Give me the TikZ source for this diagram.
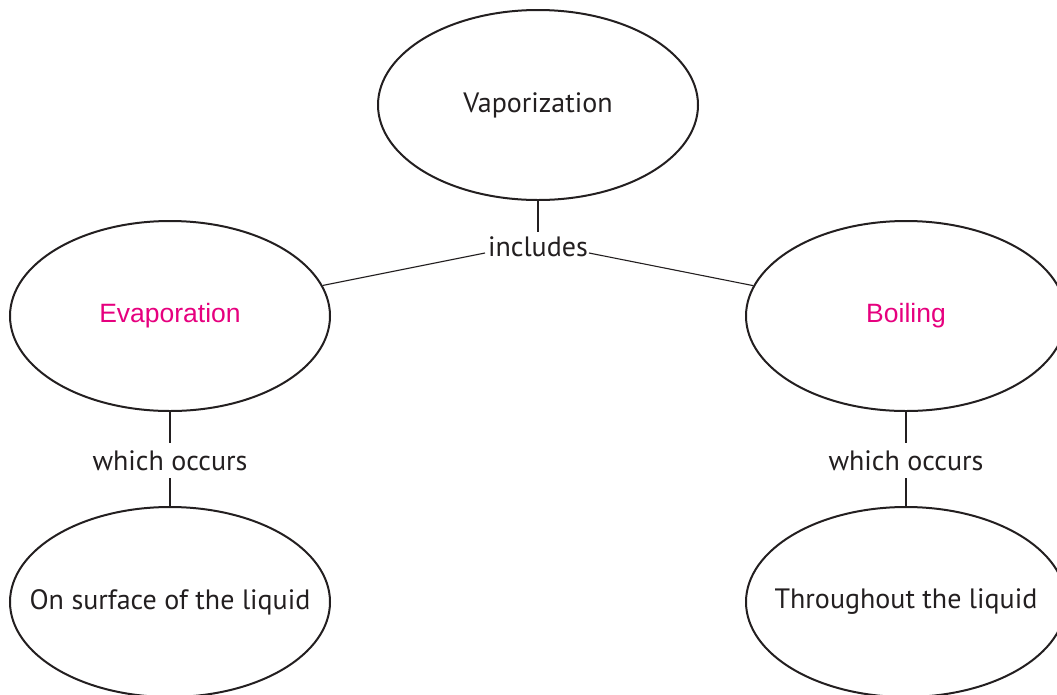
\documentclass[tikz,border=0pt]{standalone}
\usepackage{fontspec}
\setmainfont{PT Sans}
\newfontfamily\pinkfont{Liberation Sans}
\usetikzlibrary{shapes.geometric,calc}
\definecolor{pinkc}{HTML}{E6007E}
\definecolor{inkc}{HTML}{231F20}
\tikzset{
  bubble/.style={ellipse, draw=inkc, line width=2pt, minimum width=320pt, minimum height=190pt, inner sep=0pt, font=\fontsize{28}{32}\selectfont, text=inkc},
  pinktext/.style={text=pinkc, font=\pinkfont\fontsize{26.5}{30}\selectfont},
  lbl/.style={inner sep=0pt, font=\fontsize{28}{32}\selectfont, text=inkc},
  conn/.style={draw=inkc, line width=1.1pt}
}
\newcommand{\zw}[1]{\makebox[0pt][c]{#1}}
\begin{document}
\begin{tikzpicture}[x=1pt,y=-1pt]
\useasboundingbox (0,0) rectangle (1057,694);
\clip (0,0) rectangle (1057,694);
\node[bubble] (vap) at (538,105) {\zw{Vaporization}};
\node[bubble, pinktext] (evap) at (170,316) {\zw{Evaporation}};
\node[bubble, pinktext] (boil) at (906,316) {\zw{Boiling}};
\node[bubble] (surf) at (170,602) {\zw{On surface of the liquid}};
\node[bubble] (thru) at (906,602) {\zw{Throughout the liquid}};
\node[lbl] (inc) at (538,247) {includes};
\node[lbl] (wo1) at (170,461) {which occurs};
\node[lbl] (wo2) at (906,461) {which occurs};
\coordinate (incT) at ($(inc.center)+(0,-15)$);
\coordinate (incL) at ($(inc.center)+(-53,6)$);
\coordinate (incR) at ($(inc.center)+(51,6)$);
\coordinate (wo1T) at ($(wo1.center)+(0,-18)$);
\coordinate (wo1B) at ($(wo1.center)+(0,17)$);
\coordinate (wo2T) at ($(wo2.center)+(0,-18)$);
\coordinate (wo2B) at ($(wo2.center)+(0,17)$);
\draw[conn] (vap.south) -- (incT);
\draw[conn] (incL) -- (evap);
\draw[conn] (incR) -- (boil);
\draw[conn] (evap.south) -- (wo1T);
\draw[conn] (wo1B) -- (surf.north);
\draw[conn] (boil.south) -- (wo2T);
\draw[conn] (wo2B) -- (thru.north);
\end{tikzpicture}
\end{document}
